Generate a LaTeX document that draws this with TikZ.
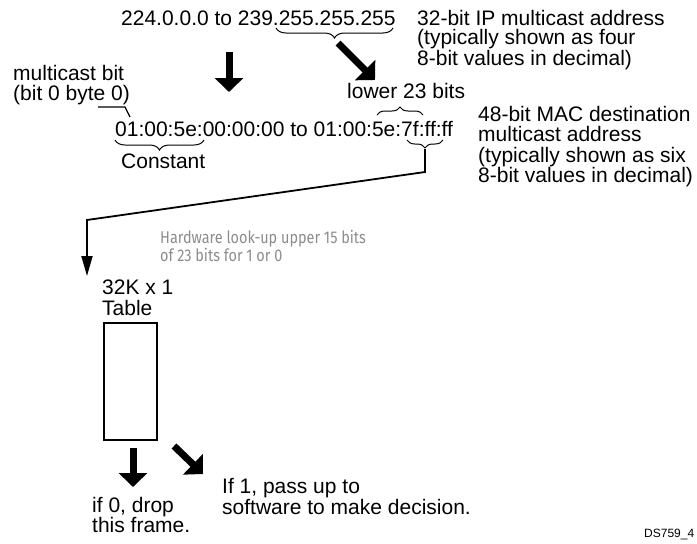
\documentclass[tikz,border=0pt]{standalone}
\usepackage{fontspec}
\setmainfont{Liberation Sans}
\newfontfamily\hwfont[FakeStretch=0.85]{Fira Sans}
\usetikzlibrary{arrows.meta,decorations.pathreplacing}
\begin{document}
\begin{tikzpicture}[x=1pt,y=-1pt,
  txt/.style={anchor=base west,inner sep=0pt,font=\fontsize{21}{20}\selectfont},
  hw/.style={anchor=base west,inner sep=0pt,text=black!45,font=\hwfont\fontsize{17}{18.5}\selectfont},
  leader/.style={line width=1.3pt},
  brc/.style={decorate,decoration={brace,amplitude=#1},line width=1pt},
  bigarrow/.style={line width=7pt,-{Triangle[width=28pt,length=14pt]}},
  conn/.style={line width=1.8pt,-{Triangle[width=11pt,length=20pt]}}]
\useasboundingbox (0,0) rectangle (697,544);

% texts
\node[txt,font=\fontsize{21}{19.5}\selectfont] (ip) at (121,25) {224.0.0.0 to 239.255.255.255};
\node[txt,font=\fontsize{21}{19.5}\selectfont] (ipnote) at (417,25) {\vtop{\hbox{32-bit IP multicast address}\hbox{(typically shown as four}\hbox{8-bit values in decimal)}}};
\node[txt] (mbit) at (13,80) {\vtop{\hbox{multicast bit}\hbox{(bit 0 byte 0)}}};
\node[txt] (low) at (347,98) {lower 23 bits};
\node[txt] (mac) at (115,136) {01:00:5e:00:00:00 to 01:00:5e:7f:ff:ff};
\node[txt] (const) at (121,168) {Constant};
\node[txt,font=\fontsize{21}{20.5}\selectfont] (macnote) at (478,121) {\vtop{\hbox{48-bit MAC destination}\hbox{multicast address}\hbox{(typically shown as six}\hbox{8-bit values in decimal)}}};
\node[hw] (hwtxt) at (160,243) {\vtop{\hbox{Hardware look-up upper 15 bits}\hbox{of 23 bits for 1 or 0}}};
\node[txt,font=\fontsize{21}{21}\selectfont] (tlabel) at (102,294) {\vtop{\hbox{32K x 1}\hbox{Table}}};
\node[draw,line width=2pt,minimum width=53pt,minimum height=117pt,inner sep=0pt] (tbl) at (130.5,381.5) {};
\node[txt] (drop) at (92,512) {\vtop{\hbox{if 0, drop}\hbox{this frame.}}};
\node[txt,font=\fontsize{21}{21}\selectfont] (pass) at (222,493) {\vtop{\hbox{If 1, pass up to}\hbox{software to make decision.}}};
\node[txt,font=\fontsize{12}{12}\selectfont] (ds) at (644,537) {DS759\_4};

% braces
\draw[brc=10pt] (393,28) -- (276,28);
\draw[brc=8pt] (377,115) -- (423,115);
\draw[brc=8pt] (443,140) -- (407,140);
\draw[brc=10pt] (204,140) -- (115,140);

% leader for multicast bit
\coordinate (l1) at (98,107);
\coordinate (l2) at (125,107);
\coordinate (l3) at (130,117);
\draw[leader] (l1) -- (l2) -- (l3);

% connector to table
\coordinate (b3tip) at (425,149);
\coordinate (bend1) at (425,172);
\coordinate (bend2) at (87,220);
\coordinate (tblin) at (87,276);
\draw[conn] (b3tip) -- (bend1) -- (bend2) -- (tblin);

% block arrows
\coordinate (a1s) at (229,52);
\coordinate (a1e) at (229,92);
\draw[bigarrow] (a1s) -- (a1e);
\coordinate (a2s) at (338,43);
\coordinate (a2e) at (375,80);
\draw[bigarrow] (a2s) -- (a2e);
\coordinate (a3s) at (133,448);
\coordinate (a3e) at (133,487);
\draw[bigarrow] (a3s) -- (a3e);
\coordinate (a4s) at (174,446);
\coordinate (a4e) at (203,474);
\draw[bigarrow] (a4s) -- (a4e);
\end{tikzpicture}
\end{document}
